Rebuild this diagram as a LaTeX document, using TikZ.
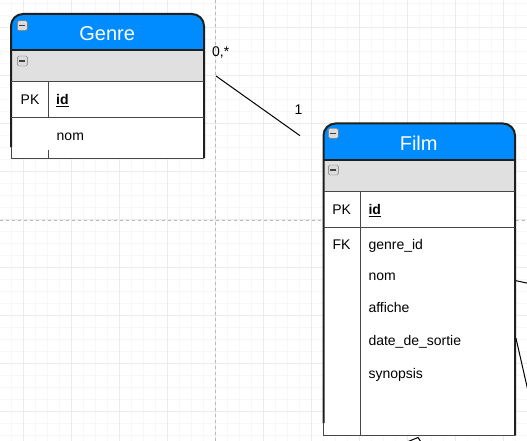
\documentclass[tikz,border=0pt]{standalone}
\usepackage{fontspec}
\newfontfamily\erfont{Liberation Sans}
\newcommand\erTitle{\erfont\fontsize{20}{24}\selectfont}
\newcommand\erField{\erfont\fontsize{14}{17}\selectfont}
\definecolor{headblue}{HTML}{008CFF}
\definecolor{bandgray}{HTML}{E0E0E0}
\begin{document}
\begin{tikzpicture}[x=1pt, y=-1pt,
        minorline/.style={draw=black!3, line width=1pt},
        majorline/.style={draw=black!8, line width=1pt},
        pagebreak/.style={draw=black!28, line width=1pt, dash pattern=on 3pt off 3pt},
        header/.style={fill=headblue},
        band/.style={fill=bandgray},
        frame/.style={draw=black!88, line width=2pt},
        rowline/.style={draw=black!72, line width=1pt},
        toggle/.style={draw=black!55, fill=black!14, rounded corners=1.5pt, minimum size=10pt, inner sep=0pt,
            path picture={\draw[black!75, line width=1.5pt] ([xshift=2pt]path picture bounding box.west) -- ([xshift=-2pt]path picture bounding box.east);}},
        title/.style={text=white, font=\erTitle, inner sep=0pt, anchor=base},
        keycol/.style={font=\erField, inner sep=0pt, anchor=base},
        field/.style={font=\erField, inner sep=0pt, anchor=base west},
        card/.style={font=\erField, inner sep=0pt},
        link/.style={draw=black, line width=1pt}
    ]
        \useasboundingbox (0,0) rectangle (527,441);
        \clip (0,0) rectangle (527,441);
        \fill[white] (0,0) rectangle (527,441);

        % Grid
        \foreach \i in {0,...,43}
            \draw[minorline] ({11.3+12*\i},0) -- ++(0,441);
        \foreach \j in {0,...,36}
            \draw[minorline] (0,{3.3+12*\j}) -- ++(527,0);
        \foreach \i in {0,...,10}
            \draw[majorline] ({23.3+48*\i},0) -- ++(0,441);
        \foreach \j in {0,...,8}
            \draw[majorline] (0,{27.3+48*\j}) -- ++(527,0);

        % Page breaks
        \draw[pagebreak] (215.3,0) -- (215.3,441);
        \draw[pagebreak] (0,220.3) -- (527,220.3);

        % Genre table
        \fill[white] (11,82) rectangle (204,158);
        \fill[band] (11,50) rectangle (204,82);
        \fill[header] (11,50) -- (11,26) arc(180:270:12) -- (192,14) arc(270:360:12) -- (204,50) -- cycle;
        \draw[frame] (11,147) -- (11,26) arc(180:270:12) -- (192,14) arc(270:360:12) -- (204,158);
        \draw[frame] (11,50) -- (204,50);
        \draw[rowline] (11,82) -- (204,82);
        \draw[rowline] (11,117.5) -- (204,117.5);
        \draw[rowline] (11,158) -- (204,158);
        \draw[rowline] (11,147) -- (11,158);
        \draw[rowline] (48,82) -- (48,117.5);
        \draw[rowline] (48,150) -- (48,158);

        \node[toggle] (genre-tog) at (22.3,25.7) {};
        \node[title] (genre-title) at (107.2,40.7) {Genre};
        \node[toggle] (genre-tog2) at (22.3,61) {};
        \node[keycol] (genre-pk) at (30,104.3) {PK};
        \node[field] (genre-id) at (56,104.3) {\underline{\textbf{id}}};
        \node[field] (genre-nom) at (56.5,140) {nom};

        % Film table
        \fill[white] (323.5,191) rectangle (515,435.7);
        \fill[band] (323.5,160) rectangle (515,191);
        \fill[header] (323.5,160) -- (323.5,135.5) arc(180:270:12) -- (503,123.5) arc(270:360:12) -- (515,160) -- cycle;
        \draw[frame] (323.5,423) -- (323.5,135.5) arc(180:270:12) -- (503,123.5) arc(270:360:12) -- (515,435.7);
        \draw[frame] (323.5,160) -- (515,160);
        \draw[rowline] (323.5,191) -- (515,191);
        \draw[rowline] (323.5,227) -- (515,227);
        \draw[rowline] (323.5,435.7) -- (515,435.7);
        \draw[rowline] (323.5,423) -- (323.5,435.7);
        \draw[rowline] (360,191) -- (360,435.7);

        \node[toggle] (film-tog) at (333.3,133.3) {};
        \node[title] (film-title) at (418.7,150) {Film};
        \node[toggle] (film-tog2) at (333.3,170) {};
        \node[keycol] (film-pk) at (341.7,214.3) {PK};
        \node[field] (film-id) at (368.3,214.3) {\underline{\textbf{id}}};
        \node[keycol] (film-fk) at (341.5,249.3) {FK};
        \node[field] (film-genre) at (368.3,249.3) {genre\_id};
        \node[field] (film-nom) at (368.3,280.7) {nom};
        \node[field] (film-affiche) at (368.3,312) {affiche};
        \node[field] (film-date) at (368.3,345) {date\_de\_sortie};
        \node[field] (film-synopsis) at (368.3,378.7) {synopsis};

        % Relation
        \coordinate (genre-link) at (216,76);
        \coordinate (film-link) at (300,135.7);
        \draw[link] (genre-link) -- (film-link);
        \node[card, anchor=base west] (genre-mult) at (212,56.7) {0,*};
        \node[card, anchor=base] (film-mult) at (298.5,114) {1};

        % Links leaving the view
        \coordinate (film-out1) at (516,280.7);
        \coordinate (off-out1) at (528,283.3);
        \coordinate (film-out2) at (516,338.3);
        \coordinate (off-out2) at (528,391);
        \coordinate (off-in1) at (407,442);
        \coordinate (film-in) at (418,437.5);
        \coordinate (off-in2) at (421,442);
        \draw[link] (film-out1) -- (off-out1);
        \draw[link] (film-out2) -- (off-out2);
        \draw[link] (off-in1) -- (film-in) -- (off-in2);
    \end{tikzpicture}
\end{document}
